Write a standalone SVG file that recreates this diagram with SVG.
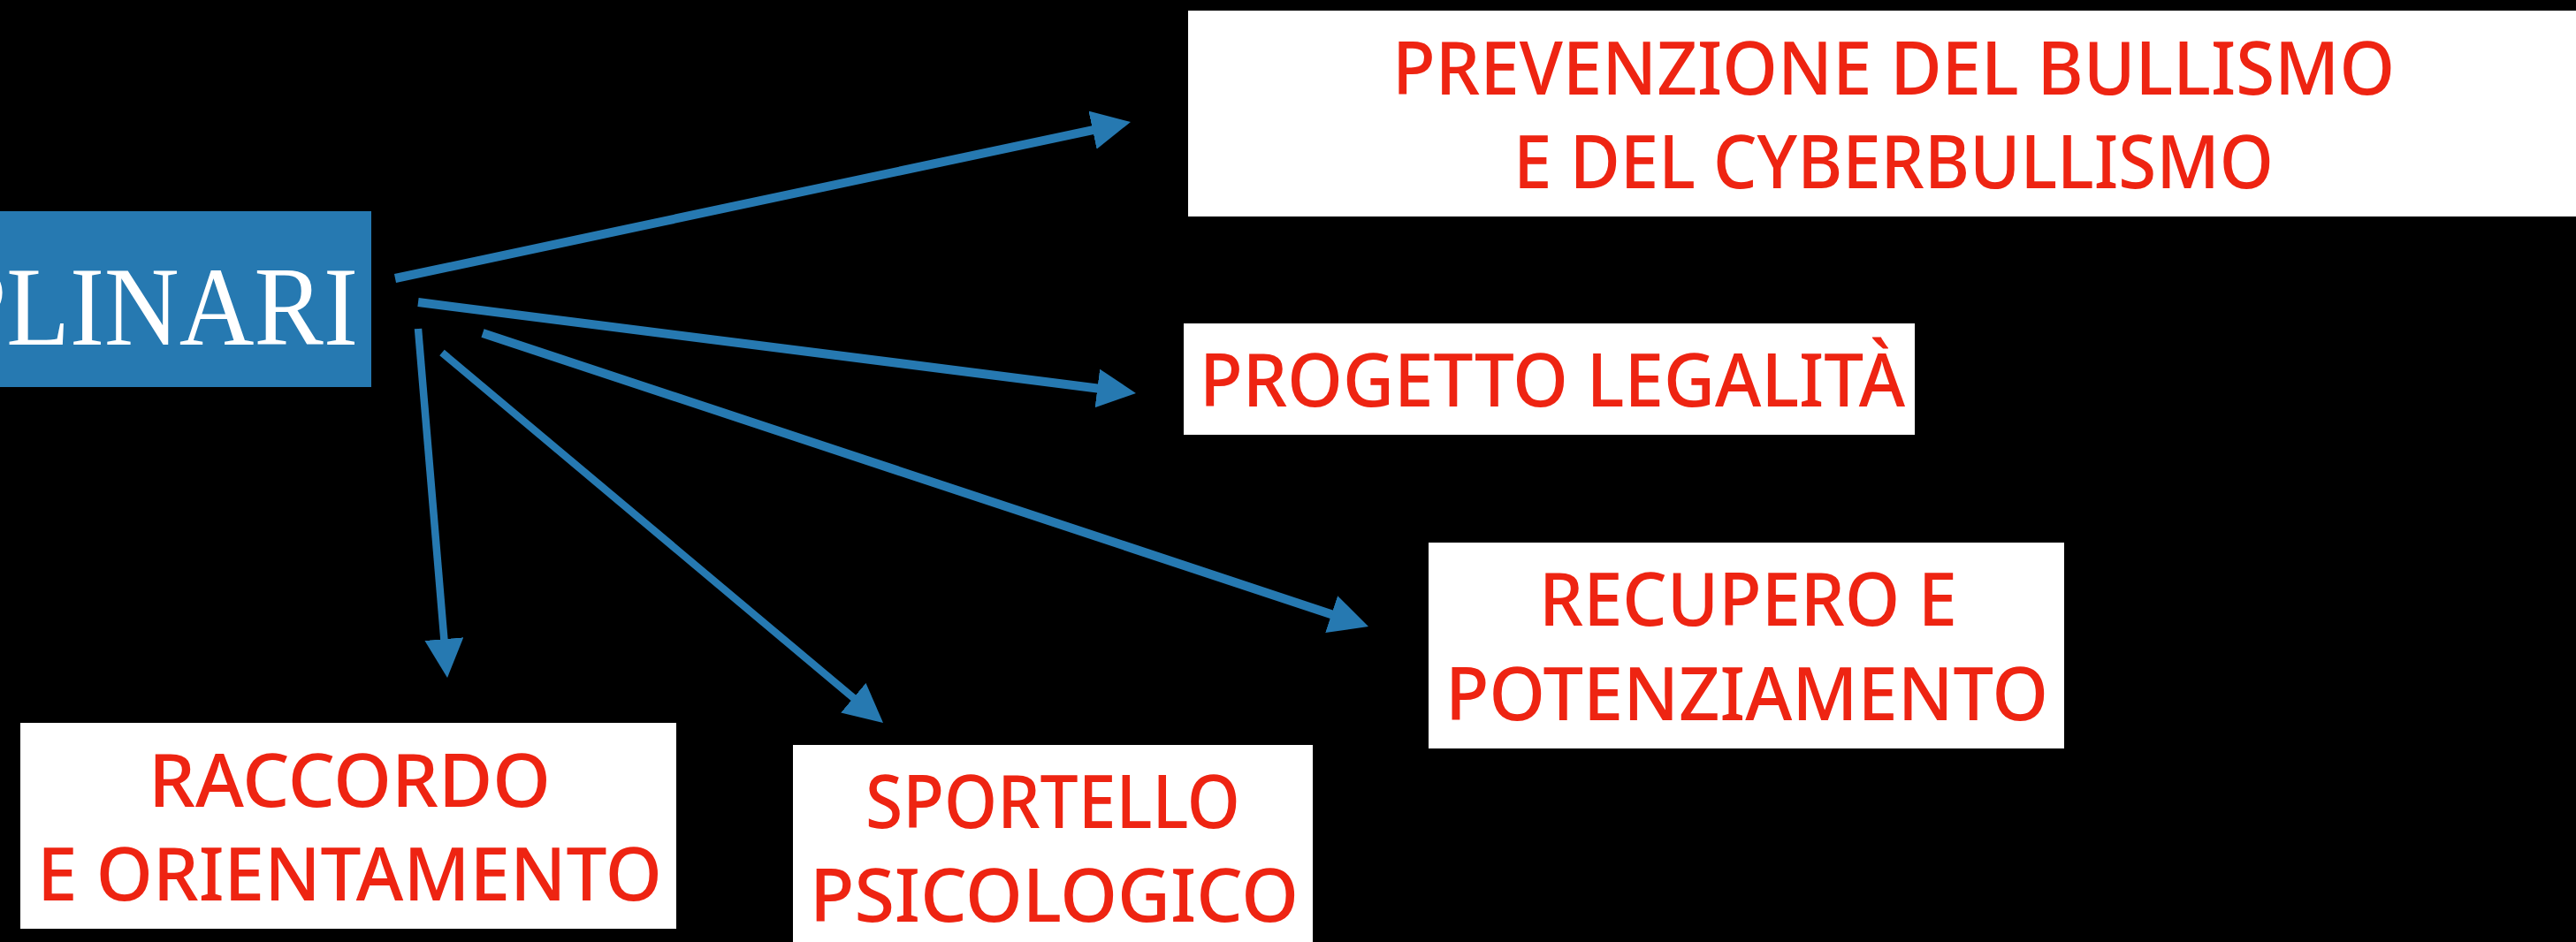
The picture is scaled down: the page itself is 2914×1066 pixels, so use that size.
<svg xmlns="http://www.w3.org/2000/svg" width="2914" height="1066" viewBox="0 0 2914 1066">
  <style>
    .box { fill: #ffffff; }
    .lbl { font-family: "Noto Sans", "Liberation Sans", sans-serif; font-size: 84px; font-weight: 500; fill: #EE2412; }
    .conn { stroke: #2679B1; fill: none; stroke-linecap: butt; }
    .w10 { stroke-width: 10; }
    .w8 { stroke-width: 8.5; }
  </style>
  <defs>
    <marker id="ah" markerUnits="userSpaceOnUse" markerWidth="48" markerHeight="48" viewBox="0 0 48 48" refX="4" refY="22" orient="auto">
      <path d="M0,0 L44,22 L0,44 z" fill="#2679B1"/>
    </marker>
  </defs>
  <rect x="0" y="0" width="2914" height="1066" fill="#000000"/>

  <g id="node-center">
    <rect x="0" y="239" width="420" height="199" fill="#2679B1"/>
    <text x="-58" y="390" textLength="463" lengthAdjust="spacingAndGlyphs" font-family="'Liberation Serif', serif" font-size="127" fill="#ffffff">PLINARI</text>
  </g>

  <g id="node-bullismo">
    <rect class="box" x="1344" y="12" width="1570" height="233"/>
    <text class="lbl" x="1575" y="107" textLength="1134" lengthAdjust="spacingAndGlyphs">PREVENZIONE DEL BULLISMO</text>
    <text class="lbl" x="1712" y="213" textLength="860" lengthAdjust="spacingAndGlyphs">E DEL CYBERBULLISMO</text>
  </g>

  <g id="node-legalita">
    <rect class="box" x="1339" y="366" width="827" height="126"/>
    <text class="lbl" x="1357" y="460" textLength="798" lengthAdjust="spacingAndGlyphs">PROGETTO LEGALITÀ</text>
  </g>

  <g id="node-recupero">
    <rect class="box" x="1616" y="614" width="719" height="233"/>
    <text class="lbl" x="1741" y="708" textLength="473" lengthAdjust="spacingAndGlyphs">RECUPERO E</text>
    <text class="lbl" x="1635" y="815" textLength="682" lengthAdjust="spacingAndGlyphs">POTENZIAMENTO</text>
  </g>

  <g id="node-raccordo">
    <rect class="box" x="23" y="818" width="742" height="233"/>
    <text class="lbl" x="168" y="913" textLength="455" lengthAdjust="spacingAndGlyphs">RACCORDO</text>
    <text class="lbl" x="42" y="1019" textLength="707" lengthAdjust="spacingAndGlyphs">E ORIENTAMENTO</text>
  </g>

  <g id="node-sportello">
    <rect class="box" x="897" y="843" width="588" height="223"/>
    <text class="lbl" x="979" y="937" textLength="424" lengthAdjust="spacingAndGlyphs">SPORTELLO</text>
    <text class="lbl" x="916" y="1043" textLength="553" lengthAdjust="spacingAndGlyphs">PSICOLOGICO</text>
  </g>

  <g id="connectors">
    <line class="conn w10" x1="447" y1="315" x2="1239.9" y2="146.3" marker-end="url(#ah)"/>
    <line class="conn w10" x1="473" y1="342" x2="1245.3" y2="440.0" marker-end="url(#ah)"/>
    <line class="conn w10" x1="546" y1="377" x2="1510" y2="696.4" marker-end="url(#ah)"/>
    <line class="conn w8" x1="500" y1="399" x2="968.4" y2="792.3" marker-end="url(#ah)"/>
    <line class="conn w8" x1="473" y1="372" x2="502.7" y2="727.1" marker-end="url(#ah)"/>
  </g>
</svg>
